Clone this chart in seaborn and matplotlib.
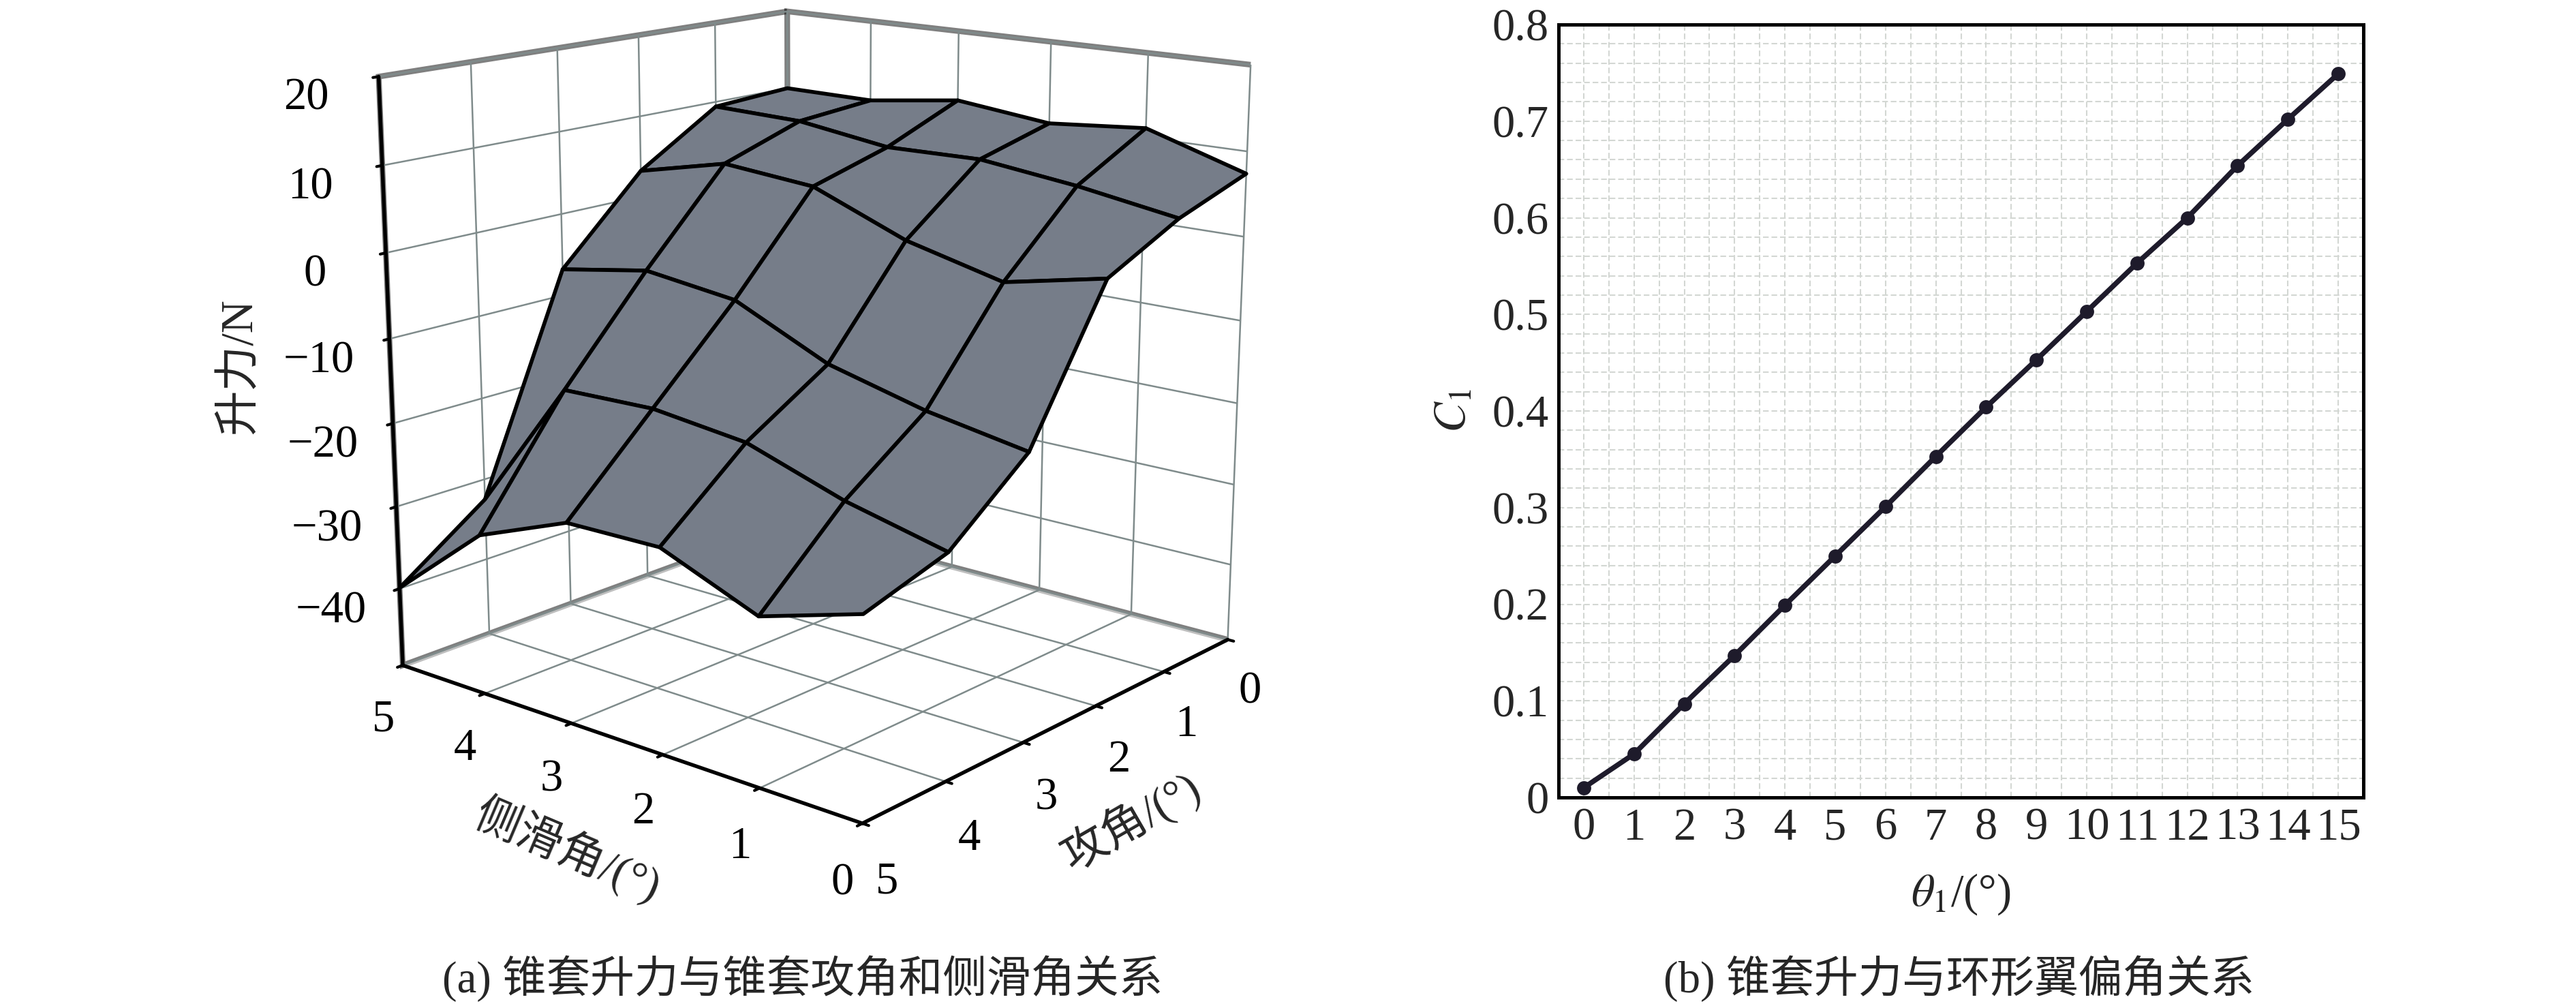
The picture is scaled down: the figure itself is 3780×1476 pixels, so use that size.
import numpy as np
import matplotlib
matplotlib.use("Agg")
import matplotlib.pyplot as plt
import seaborn as sns

# ---------------- data ----------------
sideslip = [0, 1, 2, 3, 4, 5]          # 侧滑角/(°)
attack = [0, 1, 2, 3, 4, 5]            # 攻角/(°)
# lift (N), one row per attack angle, columns follow sideslip
lift_a0 = [7.4, 11.1, 10.1, 11.4, 9.9, 10.0]
lift_a1 = [4.4, 6.3, 7.7, 7.5, 9.1, 9.4]
lift_a2 = [0.0, -2.5, 0.3, 4.8, 5.8, 3.2]
lift_a3 = [-16.4, -14.4, -11.5, -6.3, -4.9, -6.8]
lift_a4 = [-24.0, -21.3, -17.5, -16.2, -16.5, -32.5]
lift_a5 = [-26.9, -30.4, -25.9, -26.1, -30.5, -39.9]

theta = list(range(16))                # θ1/(°)
cl = [0.010, 0.045, 0.097, 0.147, 0.199, 0.250, 0.301, 0.353,
      0.404, 0.453, 0.503, 0.553, 0.600, 0.654, 0.702, 0.749]

zticks = [-40, -30, -20, -10, 0, 10, 20]
xticks_b = list(range(16))
yticks_b = [0, 0.1, 0.2, 0.3, 0.4, 0.5, 0.6, 0.7, 0.8]

# ---------------- style ----------------
sns.set_style("white")
plt.rcParams['font.family'] = ['Liberation Serif', 'Noto Sans CJK SC', 'DejaVu Sans']
plt.rcParams['mathtext.fontset'] = 'stix'
plt.rcParams['axes.unicode_minus'] = True

GRID3 = '#7f8b8b'
SURF = '#767d89'
FS = 16

fig = plt.figure(figsize=(12.6, 4.92), dpi=300)

# ---------------- (a) 3D surface ----------------
ax3 = fig.add_axes([0.0835, 0.150, 0.46, 0.94], projection='3d')
S, A = np.meshgrid(sideslip, attack)
Z = np.array([lift_a0, lift_a1, lift_a2, lift_a3, lift_a4, lift_a5])
ax3.plot_surface(S, A, Z, color=SURF, edgecolor='black', linewidth=1.35,
                 shade=False, antialiased=True, rstride=1, cstride=1)
ax3.set_xlim(0, 5)
ax3.set_ylim(0, 5)
ax3.set_zlim(-49.5, 20)
ax3.set_xticks(sideslip)
ax3.set_yticks(attack)
ax3.set_zticks(zticks)
ax3.view_init(elev=15, azim=130)
ax3.set_proj_type('persp', focal_length=0.55)
ax3.set_box_aspect((1, 1, 1.0), zoom=1.07)

for axis in (ax3.xaxis, ax3.yaxis, ax3.zaxis):
    axis.pane.set_facecolor('white')
    axis.pane.set_edgecolor('black')
    axis.pane.set_linewidth(2.0)
    axis.line.set_color('black')
    axis.line.set_linewidth(1.3)
    axis._axinfo['grid'].update(color=GRID3, linewidth=0.6, linestyle='-')
    axis._axinfo['tick'].update(inward_factor=0.15, outward_factor=0.0,
                                color='black', linewidth={True: 1.0, False: 0.6})
ax3.zaxis.pane.set_edgecolor(GRID3)
ax3.zaxis.pane.set_linewidth(0.6)
ax3.zaxis.set_ticks_position('upper')
ax3.tick_params(axis='both', labelsize=FS, colors='black')
ax3.xaxis.set_tick_params(pad=0)
ax3.yaxis.set_tick_params(pad=0)
ax3.zaxis.set_tick_params(pad=6)
ax3.grid(True)

fig.text(352 / 3780, 1 - 537 / 1476, '升力/N', rotation=90, fontsize=FS,
         ha='center', va='center')
fig.text(833 / 3780, 1 - 1247 / 1476, '侧滑角/(°)', rotation=-23, fontsize=FS,
         ha='center', va='center')
fig.text(1660 / 3780, 1 - 1205 / 1476, '攻角/(°)', rotation=30, fontsize=FS,
         ha='center', va='center')
fig.text(1178 / 3780, 1 - 1436 / 1476, '(a) 锥套升力与锥套攻角和侧滑角关系',
         fontsize=15.5, ha='center', va='center')

# ---------------- (b) line chart ----------------
axb = fig.add_axes([2287 / 3780, 1 - 1170 / 1476, (3468 - 2287) / 3780,
                    (1170 - 36) / 1476])
sns.lineplot(x=theta, y=cl, ax=axb, color='#1e1b2b', linewidth=1.8,
             marker='o', markersize=5, markeredgewidth=0)
axb.set_xlim(-0.5, 15.5)
axb.set_ylim(0, 0.8)
axb.set_xticks(xticks_b)
axb.set_yticks(yticks_b)
axb.set_yticklabels(['0' if v == 0 else f'{v:.1f}' for v in yticks_b])
axb.set_xticks(np.arange(-0.5, 15.6, 0.5), minor=True)
axb.set_yticks(np.arange(0, 0.801, 0.02), minor=True)
axb.grid(True, which='both', color='#d3d7d3', linestyle=(0, (4, 2)),
         linewidth=0.5)
axb.set_axisbelow(True)
axb.tick_params(axis='both', which='both', direction='in', labelsize=FS,
                color='black', width=1.0)
axb.tick_params(axis='both', which='major', length=4)
axb.tick_params(axis='y', which='minor', length=3.5)
axb.tick_params(axis='x', which='minor', length=0)
for sp in axb.spines.values():
    sp.set_color('black')
    sp.set_linewidth(1.2)
axb.set_xlabel(r'$\theta_1$/(°)', fontsize=FS, labelpad=8)
axb.set_ylabel(r'$C_1$', fontsize=FS, labelpad=6)
fig.text(2875 / 3780, 1 - 1436 / 1476, '(b) 锥套升力与环形翼偏角关系',
         fontsize=15.5, ha='center', va='center')

fig.savefig('out.png', dpi=300)
